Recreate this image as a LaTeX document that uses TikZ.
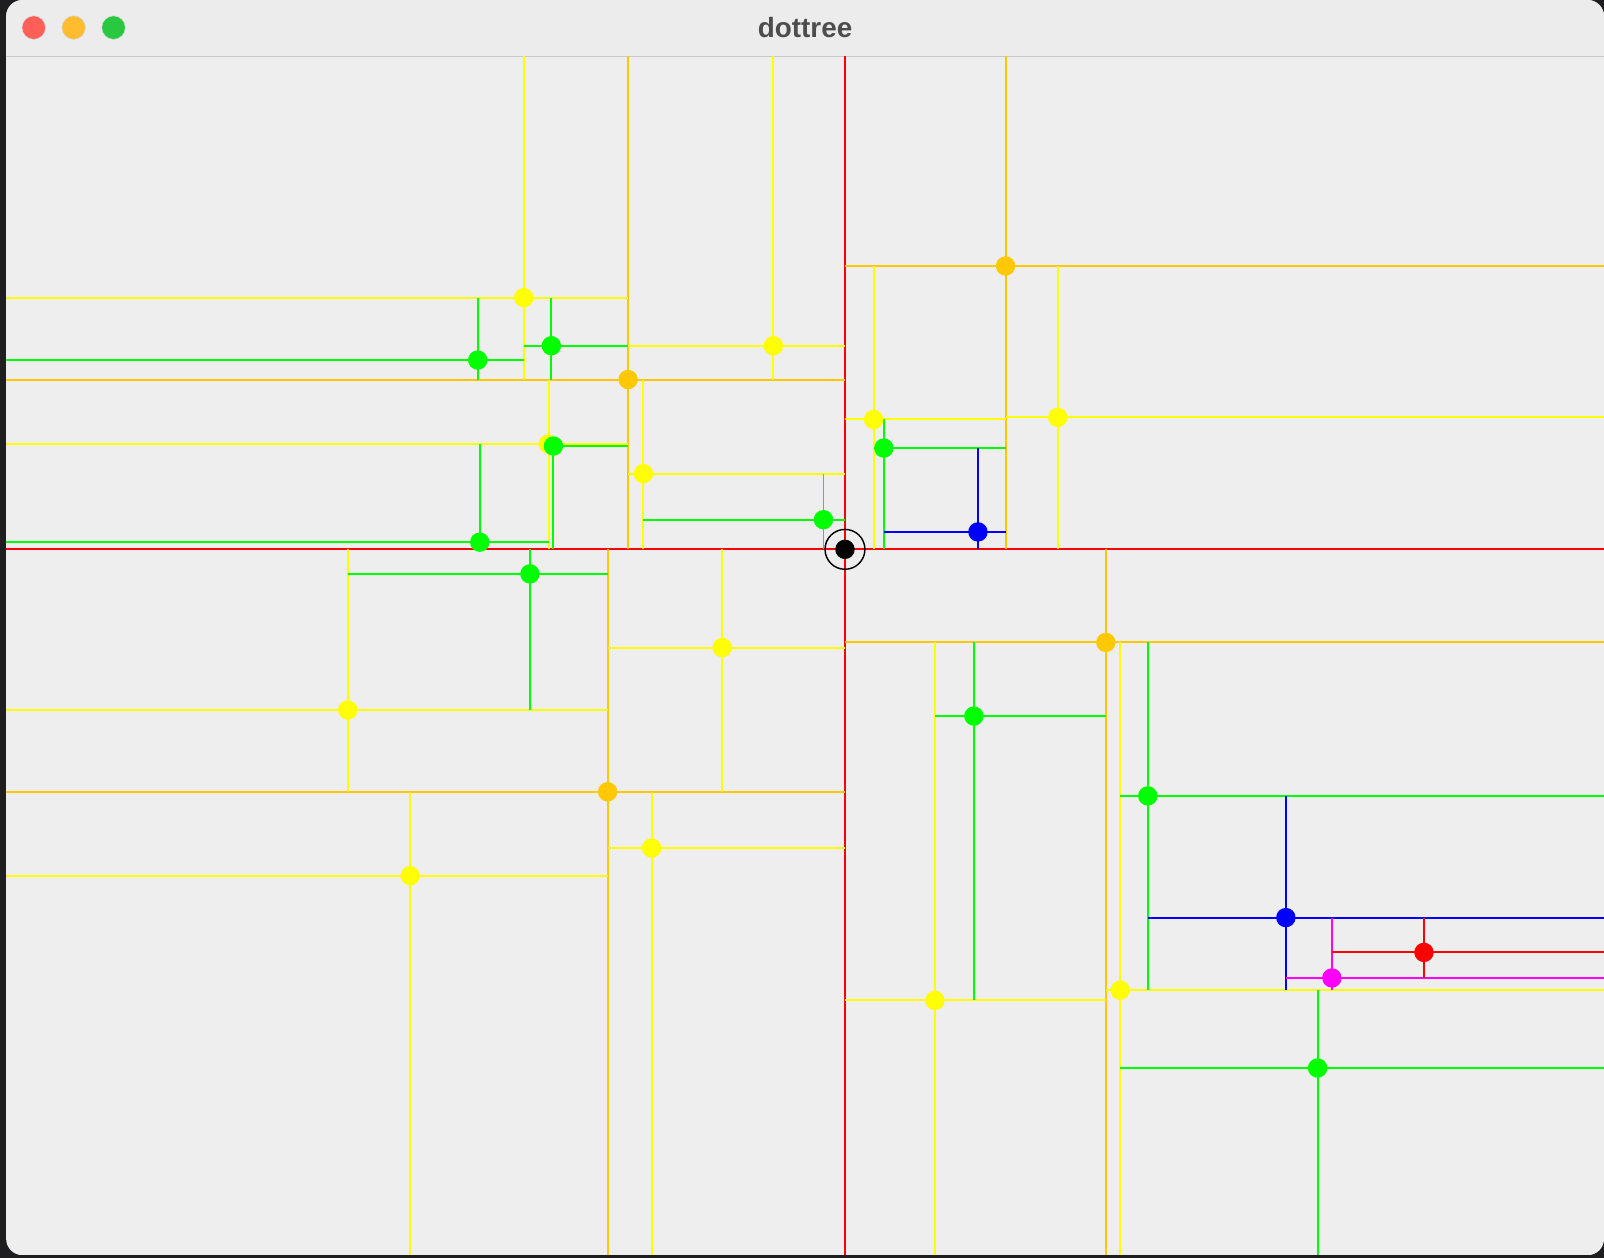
\documentclass[tikz,border=0pt]{standalone}
\usepackage{fontspec}
\newfontfamily\titlefont{Liberation Sans}
\usetikzlibrary{shapes.geometric}

\definecolor{deskdark}{RGB}{30,30,32}
\definecolor{canvasgray}{RGB}{238,238,238}
\definecolor{titlegray}{RGB}{236,236,236}
\definecolor{titleline}{RGB}{200,200,200}
\definecolor{titletext}{RGB}{77,77,77}
\definecolor{macred}{RGB}{255,95,87}
\definecolor{macyellow}{RGB}{254,188,46}
\definecolor{macgreen}{RGB}{40,200,64}
\definecolor{jred}{RGB}{255,0,0}
\definecolor{jorange}{RGB}{255,200,0}
\definecolor{jyellow}{RGB}{255,255,0}
\definecolor{jgreen}{RGB}{0,255,0}
\definecolor{jblue}{RGB}{0,0,255}
\definecolor{jmagenta}{RGB}{255,0,255}

\tikzstyle{split} = [line width=1.1pt]
\tikzstyle{dot} = [circle, inner sep=0pt, minimum size=0.38cm]
\tikzstyle{light} = [circle, inner sep=0pt, minimum size=0.46cm, draw=black!15, line width=0.3pt]

\begin{document}
\begin{tikzpicture}[x=0.02cm, y=-0.02cm]

    \useasboundingbox (0,0) rectangle (1568,1230);

    % Window
    \fill [deskdark] (0,0) rectangle (1568,1230);
    \begin{scope}
    \clip [rounded corners=0.32cm] (6,0) rectangle (1568,1227);
    \fill [canvasgray] (6,0) rectangle (1568,1227);
    \fill [titlegray] (6,0) rectangle (1568,55);
    \draw [titleline, line width=0.5pt] (6,55) -- (1568,55);

    % Split lines, root
    \draw [split, jred] (6,537) -- (1568,537) (826,55) -- (826,1227);

    % Split lines, depth 1
    \draw [split, jorange] (826,260) -- (1568,260) (983,55) -- (983,537);
    \draw [split, jorange] (6,371) -- (826,371) (614,55) -- (614,537);
    \draw [split, jorange] (6,774) -- (826,774) (594,537) -- (594,1227);
    \draw [split, jorange] (826,628) -- (1568,628) (1081,537) -- (1081,1227);

    % Split lines, depth 2
    \draw [split, jyellow] (826,410) -- (983,410) (854,260) -- (854,537);
    \draw [split, jyellow] (983,408) -- (1568,408) (1034,260) -- (1034,537);
    \draw [split, jyellow] (6,291) -- (614,291) (512,55) -- (512,371);
    \draw [split, jyellow] (614,338) -- (826,338) (756,55) -- (756,371);
    \draw [split, jyellow] (6,434) -- (614,434) (537,371) -- (537,537);
    \draw [split, jyellow] (614,463) -- (826,463) (629,371) -- (629,537);
    \draw [split, jyellow] (6,694) -- (594,694) (340,537) -- (340,774);
    \draw [split, jyellow] (594,633) -- (826,633) (706,537) -- (706,774);
    \draw [split, jyellow] (6,856) -- (594,856) (401,774) -- (401,1227);
    \draw [split, jyellow] (594,829) -- (826,829) (637,774) -- (637,1227);
    \draw [split, jyellow] (826,978) -- (1081,978) (914,628) -- (914,1227);
    \draw [split, jyellow] (1081,968) -- (1568,968) (1095,628) -- (1095,1227);

    % Split lines, depth 3
    \draw [split, jgreen] (854,438) -- (983,438) (864,410) -- (864,537);
    \draw [split, jgreen] (6,352) -- (512,352) (467,291) -- (467,371);
    \draw [split, jgreen] (512,338) -- (614,338) (539,291) -- (539,371);
    \draw [split, jgreen] (6,530) -- (537,530) (469,434) -- (469,537);
    \draw [split, jgreen] (537,436) -- (614,436) (541,434) -- (541,537);
    \draw [split, jgreen] (629,508) -- (826,508) (805,463) -- (805,537);
    \draw [split, jgreen] (340,561) -- (594,561) (518,537) -- (518,694);
    \draw [split, jgreen] (914,700) -- (1081,700) (952,628) -- (952,978);
    \draw [split, jgreen] (1095,778) -- (1568,778) (1122,628) -- (1122,968);
    \draw [split, jgreen] (1095,1044) -- (1568,1044) (1288,968) -- (1288,1227);

    % Split lines, depth 4 to 6
    \draw [split, jblue] (864,520) -- (983,520) (956,438) -- (956,537);
    \draw [split, jblue] (1122,897) -- (1568,897) (1257,778) -- (1257,968);
    \draw [split, jmagenta] (1257,956) -- (1568,956) (1302,897) -- (1302,968);
    \draw [split, jred] (1302,931) -- (1568,931) (1392,897) -- (1392,956);
    \end{scope}

    % Title bar
    \node (closebtn) [light, fill=macred] at (33,27) {};
    \node (minbtn) [light, fill=macyellow] at (72,27) {};
    \node (zoombtn) [light, fill=macgreen] at (111,27) {};
    \node (title) [text=titletext, font=\titlefont\bfseries\fontsize{15.5}{18}\selectfont] at (787,27) {dottree};

    % Nodes
    \node (root) [dot, fill=black] at (826,537) {};
    \node (rootring) [circle, draw=black, line width=0.8pt, inner sep=0pt, minimum size=0.78cm] at (826,537) {};

    \node (orangene) [dot, fill=jorange] at (983,260) {};
    \node (orangenw) [dot, fill=jorange] at (614,371) {};
    \node (orangesw) [dot, fill=jorange] at (594,774) {};
    \node (orangese) [dot, fill=jorange] at (1081,628) {};

    \node (yellowa) [dot, fill=jyellow] at (854,410) {};
    \node (yellowb) [dot, fill=jyellow] at (1034,408) {};
    \node (yellowc) [dot, fill=jyellow] at (512,291) {};
    \node (yellowd) [dot, fill=jyellow] at (756,338) {};
    \node (yellowe) [dot, fill=jyellow] at (536,434) {};
    \node (yellowf) [dot, fill=jyellow] at (629,463) {};
    \node (yellowg) [dot, fill=jyellow] at (340,694) {};
    \node (yellowh) [dot, fill=jyellow] at (706,633) {};
    \node (yellowi) [dot, fill=jyellow] at (401,856) {};
    \node (yellowj) [dot, fill=jyellow] at (637,829) {};
    \node (yellowk) [dot, fill=jyellow] at (914,978) {};
    \node (yellowl) [dot, fill=jyellow] at (1095,968) {};

    \node (greena) [dot, fill=jgreen] at (864,438) {};
    \node (greenb) [dot, fill=jgreen] at (467,352) {};
    \node (greenc) [dot, fill=jgreen] at (539,338) {};
    \node (greend) [dot, fill=jgreen] at (469,530) {};
    \node (greene) [dot, fill=jgreen] at (541,436) {};
    \node (greenf) [dot, fill=jgreen] at (805,508) {};
    \node (greeng) [dot, fill=jgreen] at (518,561) {};
    \node (greenh) [dot, fill=jgreen] at (952,700) {};
    \node (greeni) [dot, fill=jgreen] at (1122,778) {};
    \node (greenj) [dot, fill=jgreen] at (1288,1044) {};

    \node (bluea) [dot, fill=jblue] at (956,520) {};
    \node (blueb) [dot, fill=jblue] at (1257,897) {};
    \node (magentaa) [dot, fill=jmagenta] at (1302,956) {};
    \node (redleaf) [dot, fill=jred] at (1392,931) {};

\end{tikzpicture}
\end{document}
